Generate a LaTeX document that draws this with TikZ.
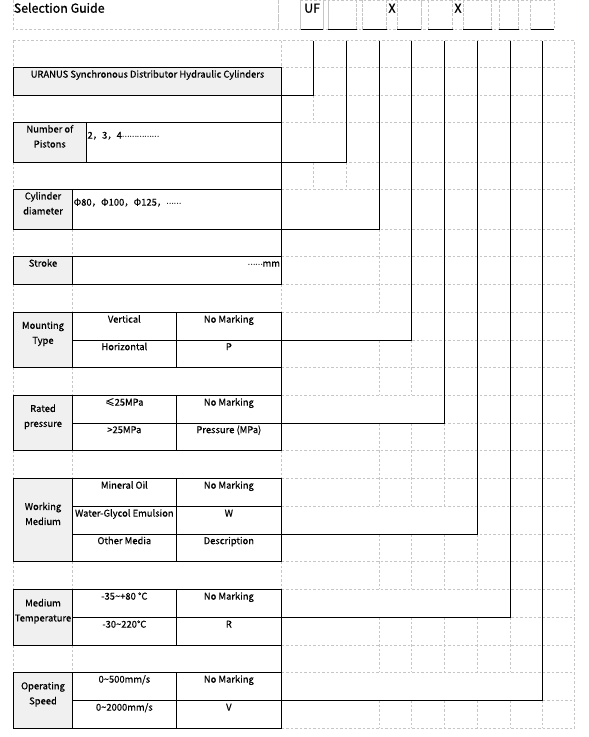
\documentclass[tikz,border=0pt]{standalone}
\usepackage{fontspec}
\setmainfont{Noto Sans CJK SC}
\newfontfamily\sheetfont{Noto Sans CJK SC}[FakeBold=0.5]
\newfontfamily\headfont{Noto Sans CJK SC}[FakeBold=1.1]
\usetikzlibrary{positioning}
\definecolor{gridgray}{HTML}{C6C6C6}
\definecolor{labgray}{HTML}{F0F0F0}
\newcommand{\middots}[1]{{\fontsize{7}{7}\selectfont\raisebox{2pt}{#1}}}

\begin{document}
\begin{tikzpicture}[x=1pt, y=-1pt,
  gridline/.style={draw=gridgray, line width=0.7pt, dash pattern=on 2.5pt off 2pt},
  conn/.style={draw, line width=1pt},
  cell/.style={draw, line width=1pt, anchor=north west, inner sep=0pt, outer sep=0pt, minimum height=28pt},
  lbl/.style={cell, fill=labgray, minimum width=59.4pt},
  opt/.style={cell, minimum width=103.3pt},
  code/.style={cell, minimum width=105.7pt},
  ltxt/.style={font=\sheetfont\fontsize{9.4}{15}\selectfont, align=center, inner sep=0pt, yshift=6pt},
  txt/.style={ltxt, text height=6.5pt, text depth=1.8pt},
  hdr/.style={font=\headfont\fontsize{12.4}{14}\selectfont, inner sep=0pt, anchor=base west}
]
\useasboundingbox (0,0) rectangle (589,737);

% header row
\foreach \a/\b in {13.3/278.3,278.3/300.7,300.7/323.3,323.3/328,328/356.7,356.7/362.7,362.7/386.7,386.7/397.3,397.3/421,421/428.3,428.3/452.7,452.7/463.3,463.3/491.7,491.7/499.3,499.3/518.7,518.7/530.7,530.7/554.3}
  \draw[gridline] (\a,0) -- (\a,29.3) -- (\b,29.3) -- (\b,0);
\draw[gridline] (300.7,0.5) -- (554.3,0.5);
\foreach \a/\b in {300.7/323.3,328/356.7,362.7/386.7,397.3/421,428.3/452.7,463.3/491.7,499.3/518.7,530.7/554.3}
  \draw[conn] (\a,29.3) -- (\b,29.3);
\node[hdr] (title) at (13.6,12.7) {Selection Guide};
\node[hdr] (uf) at (304,12.7) {UF};
\node[hdr, anchor=base] (x1) at (392,12.7) {X};
\node[hdr, anchor=base] (x2) at (458,12.7) {X};

% sheet grid
\draw[gridline] (13.3,40.7) -- (574.3,40.7) -- (574.3,728.3);
\foreach \y in {67.3,95.3,122.3,162.3,189.3,229.3,256.3,284.3,312.3,340.3,367.3,395.3,423.3,450.3,478.3,506.3,534.3,561.3,589.3,617.3,645.3,672.3,700.3,728.3}
  \draw[gridline] (281.7,\y) -- (574.3,\y);
\foreach \x/\a/\b in {13.3/40.7/67.3, 13.3/95.3/122.3, 13.3/162.3/189.3, 13.3/229.3/256.3, 13.3/284.3/312.3, 13.3/367.3/395.3, 13.3/450.3/478.3, 13.3/561.3/589.3, 13.3/645.3/672.3,
    72.7/229.3/256.3, 72.7/284.3/312.3, 72.7/367.3/395.3, 72.7/450.3/478.3, 72.7/561.3/589.3, 72.7/645.3/672.3,
    281.7/40.7/67.3, 281.7/284.3/312.3, 281.7/450.3/478.3, 281.7/561.3/589.3,
    313.3/95.3/122.3, 313.3/162.3/189.3, 346.3/162.3/189.3,
    379.3/229.3/312.3, 379.3/340.3/395.3, 379.3/423.3/506.3, 379.3/534.3/589.3, 379.3/617.3/672.3, 379.3/700.3/728.3,
    411.7/340.3/395.3, 411.7/423.3/506.3, 411.7/534.3/589.3, 411.7/617.3/672.3, 411.7/700.3/728.3,
    444.3/423.3/506.3, 444.3/534.3/589.3, 444.3/617.3/672.3, 444.3/700.3/728.3,
    477.3/534.3/589.3, 477.3/617.3/672.3, 477.3/700.3/728.3,
    510.3/617.3/672.3, 510.3/700.3/728.3, 542.7/700.3/728.3}
  \draw[gridline] (\x,\a) -- (\x,\b);

% URANUS
\node[lbl, minimum width=268.4pt] (uranus) at (13.3,67.3) {};
\node[txt] (uranus-t) at (uranus) {URANUS Synchronous Distributor Hydraulic Cylinders};

% pistons
\node[lbl, minimum width=73pt, minimum height=40pt] (pist) at (13.3,122.3) {};
\node[cell, minimum width=195.4pt, minimum height=40pt, right=0pt of pist] (pval) {};
\node[ltxt] (pist-t) at (pist) {Number of\\Pistons};
\node[txt, anchor=west] (pval-t) at ([xshift=1pt]pval.west) {2，3，4\middots{……………}};

% cylinder diameter
\node[lbl, minimum height=40pt] (cyl) at (13.3,189.3) {};
\node[cell, minimum width=209pt, minimum height=40pt, right=0pt of cyl] (cval) {};
\node[ltxt] (cyl-t) at (cyl) {Cylinder\\diameter};
\node[txt, anchor=west] (cval-t) at ([xshift=0.8pt]cval.west) {Φ80，Φ100，Φ125，\middots{……}};

% stroke
\node[lbl] (strk) at (13.3,256.3) {};
\node[cell, minimum width=209pt, right=0pt of strk] (sval) {};
\node[txt] (strk-t) at (strk) {Stroke};
\node[txt, anchor=east] (sval-t) at ([xshift=-1.5pt]sval.east) {\middots{……}mm};

% mounting type
\node[lbl, minimum height=55pt] (mount) at (13.3,312.3) {};
\node[opt] (mVert) at (mount.north east) {};
\node[code, right=0pt of mVert] (mNo) {};
\node[opt, minimum height=27pt, below=0pt of mVert] (mHor) {};
\node[code, minimum height=27pt, below=0pt of mNo] (mP) {};
\node[ltxt] (mount-t) at (mount) {Mounting\\Type};
\node[txt] (mVert-t) at (mVert) {Vertical};
\node[txt] (mNo-t) at (mNo) {No Marking};
\node[txt] (mHor-t) at (mHor) {Horizontal};
\node[txt] (mP-t) at (mP) {P};

% rated pressure
\node[lbl, minimum height=55pt] (rate) at (13.3,395.3) {};
\node[opt] (rLe) at (rate.north east) {};
\node[code, right=0pt of rLe] (rNo) {};
\node[opt, minimum height=27pt, below=0pt of rLe] (rGt) {};
\node[code, minimum height=27pt, below=0pt of rNo] (rP) {};
\node[ltxt] (rate-t) at (rate) {Rated\\pressure};
\node[txt] (rLe-t) at (rLe) {≤25MPa};
\node[txt] (rNo-t) at (rNo) {No Marking};
\node[txt] (rGt-t) at (rGt) {>25MPa};
\node[txt] (rP-t) at (rP) {Pressure (MPa)};

% working medium
\node[lbl, minimum height=83pt] (work) at (13.3,478.3) {};
\node[opt] (wMin) at (work.north east) {};
\node[code, right=0pt of wMin] (wNo) {};
\node[opt, below=0pt of wMin] (wWat) {};
\node[code, below=0pt of wNo] (wW) {};
\node[opt, minimum height=27pt, below=0pt of wWat] (wOth) {};
\node[code, minimum height=27pt, below=0pt of wW] (wD) {};
\node[ltxt] (work-t) at (work) {Working\\Medium};
\node[txt] (wMin-t) at (wMin) {Mineral Oil};
\node[txt] (wNo-t) at (wNo) {No Marking};
\node[txt] (wWat-t) at (wWat) {Water-Glycol Emulsion};
\node[txt] (wW-t) at (wW) {W};
\node[txt] (wOth-t) at (wOth) {Other Media};
\node[txt] (wD-t) at (wD) {Description};

% medium temperature
\node[lbl, minimum height=56pt] (temp) at (13.3,589.3) {};
\node[opt] (mtLo) at (temp.north east) {};
\node[code, right=0pt of mtLo] (mtNo) {};
\node[opt, below=0pt of mtLo] (mtHi) {};
\node[code, below=0pt of mtNo] (mtR) {};
\node[ltxt] (temp-t) at (temp) {Medium\\Temperature};
\node[txt] (mtLo-t) at (mtLo) {-35\textasciitilde+80 °C};
\node[txt] (mtNo-t) at (mtNo) {No Marking};
\node[txt] (mtHi-t) at (mtHi) {-30\textasciitilde220℃};
\node[txt] (mtR-t) at (mtR) {R};

% operating speed
\node[lbl, minimum height=56pt] (speed) at (13.3,672.3) {};
\node[opt] (spLo) at (speed.north east) {};
\node[code, right=0pt of spLo] (spNo) {};
\node[opt, below=0pt of spLo] (spHi) {};
\node[code, below=0pt of spNo] (spV) {};
\node[ltxt] (speed-t) at (speed) {Operating\\Speed};
\node[txt] (spLo-t) at (spLo) {0\textasciitilde500mm/s};
\node[txt] (spNo-t) at (spNo) {No Marking};
\node[txt] (spHi-t) at (spHi) {0\textasciitilde2000mm/s};
\node[txt] (spV-t) at (spV) {V};

% code columns
\coordinate (top1) at (313.3,40.7);
\coordinate (top2) at (346.3,40.7);
\coordinate (top3) at (379.3,40.7);
\coordinate (top4) at (411.7,40.7);
\coordinate (top5) at (444.3,40.7);
\coordinate (top6) at (477.3,40.7);
\coordinate (top7) at (510.3,40.7);
\coordinate (top8) at (542.7,40.7);
\draw[conn] (uranus.south east) -| (top1);
\draw[conn] (pval.south east) -| (top2);
\draw[conn] (cval.south east) -| (top3);
\draw[conn] (mP.north east) -| (top4);
\draw[conn] (rP.north east) -| (top5);
\draw[conn] (wD.north east) -| (top6);
\draw[conn] (mtR.north east) -| (top7);
\draw[conn] (spV.north east) -| (top8);
\draw[conn] (uranus.south east) -- (pval.north east) (pval.south east) -- (cval.north east)
  (cval.south east) -- (sval.north east) (mP.south east) -- (rNo.north east) (mtR.south east) -- (spNo.north east);
\end{tikzpicture}
\end{document}
